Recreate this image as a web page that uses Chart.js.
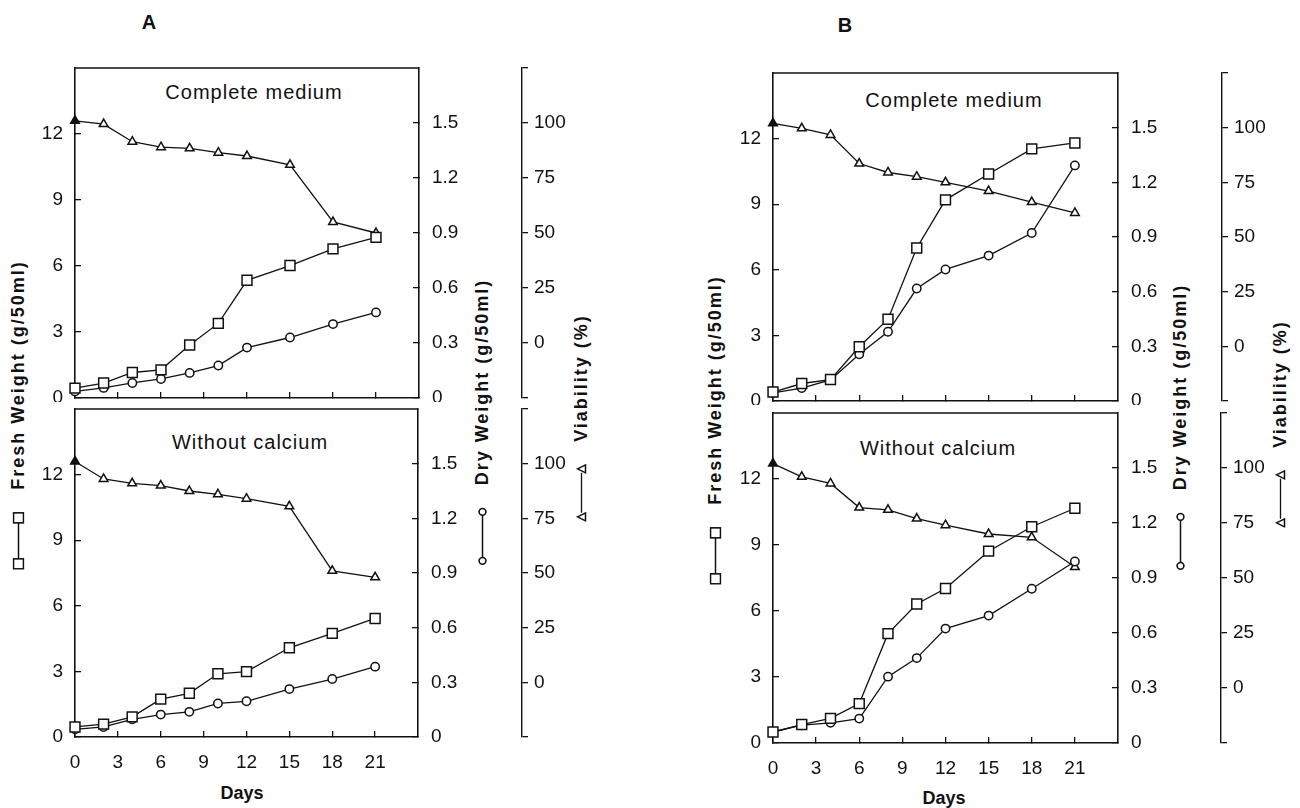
<!DOCTYPE html>
<html>
<head>
<meta charset="utf-8">
<script src="https://cdn.jsdelivr.net/npm/chart.js@4.4.1/dist/chart.umd.min.js"></script>
<style>
  body { margin: 0; background: #fff; }
  #page { position: relative; width: 1300px; height: 808px; overflow: hidden;
          font-family: 'Liberation Sans', Arial, sans-serif; color: #111; }
  canvas { position: absolute; }
  .txt { position: absolute; white-space: nowrap; transform: translate(-50%, -50%); }
  .sub { font-size: 20px; letter-spacing: 1px; }
  .big { font-size: 20px; font-weight: bold; }
  .rot { position: absolute; white-space: nowrap; display: flex; align-items: center;
         transform: translate(-50%, -50%) rotate(-90deg);
         font-size: 18px; font-weight: bold; letter-spacing: 2px; }
  .rot svg { margin-right: 22px; }
</style>
</head>
<body>
<div id="page">
  <div class="txt big" style="left:149px; top:22px">A</div>
  <div class="txt big" style="left:845px; top:25px">B</div>

  <div class="txt sub" style="left:254px; top:92px">Complete medium</div>
  <div class="txt sub" style="left:250px; top:442px">Without calcium</div>
  <div class="txt sub" style="left:954px; top:100px">Complete medium</div>
  <div class="txt sub" style="left:938px; top:448px">Without calcium</div>

  <div class="txt big" style="left:242px; top:793px; font-size:18px">Days</div>
  <div class="txt big" style="left:944px; top:798px; font-size:18px">Days</div>

  <div class="rot" style="left:18px; top:415px">
    <svg width="58" height="12"><line x1="11" y1="6" x2="47" y2="6" stroke="#111" stroke-width="1.5"/><rect x="1" y="1" width="10" height="10" fill="#fff" stroke="#111" stroke-width="1.6"/><rect x="47" y="1" width="10" height="10" fill="#fff" stroke="#111" stroke-width="1.6"/></svg>
    <span>Fresh Weight (g/50ml)</span>
  </div>
  <div class="rot" style="left:482px; top:422px">
    <svg width="58" height="12"><line x1="8" y1="6" x2="50" y2="6" stroke="#111" stroke-width="1.5"/><circle cx="4.5" cy="6" r="3.4" fill="#fff" stroke="#111" stroke-width="1.6"/><circle cx="53.5" cy="6" r="3.4" fill="#fff" stroke="#111" stroke-width="1.6"/></svg>
    <span>Dry Weight (g/50ml)</span>
  </div>
  <div class="rot" style="left:581px; top:418px">
    <svg width="58" height="12"><line x1="9" y1="6" x2="49" y2="6" stroke="#111" stroke-width="1.3"/><polygon points="5,2 9,10 1,10" fill="#fff" stroke="#111" stroke-width="1.5"/><polygon points="53,2 57,10 49,10" fill="#fff" stroke="#111" stroke-width="1.5"/></svg>
    <span>Viability (%)</span>
  </div>

  <div class="rot" style="left:715px; top:430px">
    <svg width="58" height="12"><line x1="11" y1="6" x2="47" y2="6" stroke="#111" stroke-width="1.5"/><rect x="1" y="1" width="10" height="10" fill="#fff" stroke="#111" stroke-width="1.6"/><rect x="47" y="1" width="10" height="10" fill="#fff" stroke="#111" stroke-width="1.6"/></svg>
    <span>Fresh Weight (g/50ml)</span>
  </div>
  <div class="rot" style="left:1180px; top:427px">
    <svg width="58" height="12"><line x1="8" y1="6" x2="50" y2="6" stroke="#111" stroke-width="1.5"/><circle cx="4.5" cy="6" r="3.4" fill="#fff" stroke="#111" stroke-width="1.6"/><circle cx="53.5" cy="6" r="3.4" fill="#fff" stroke="#111" stroke-width="1.6"/></svg>
    <span>Dry Weight (g/50ml)</span>
  </div>
  <div class="rot" style="left:1280px; top:424px">
    <svg width="58" height="12"><line x1="9" y1="6" x2="49" y2="6" stroke="#111" stroke-width="1.3"/><polygon points="5,2 9,10 1,10" fill="#fff" stroke="#111" stroke-width="1.5"/><polygon points="53,2 57,10 49,10" fill="#fff" stroke="#111" stroke-width="1.5"/></svg>
    <span>Viability (%)</span>
  </div>
</div>

<script>
// sampling days
const days = [0, 2, 4, 6, 8, 10, 12, 15, 18, 21];

// A, complete medium
const freshA1 = [0.45, 0.68, 1.16, 1.28, 2.41, 3.39, 5.35, 6.02, 6.78, 7.3];
const dryA1   = [0.036, 0.055, 0.082, 0.104, 0.137, 0.177, 0.275, 0.33, 0.403, 0.467];
const viabA1  = [101, 99.5, 91.5, 89, 88.5, 86.5, 85, 81, 55, 50];

// A, without calcium
const freshA2 = [0.46, 0.59, 0.92, 1.73, 2.0, 2.89, 2.99, 4.08, 4.74, 5.42];
const dryA2   = [0.042, 0.055, 0.097, 0.123, 0.138, 0.184, 0.196, 0.263, 0.318, 0.386];
const viabA2  = [101, 93, 91, 90, 87.5, 86, 84, 80.5, 51, 48];

// B, complete medium
const freshB1 = [0.41, 0.8, 0.98, 2.48, 3.74, 7.0, 9.2, 10.38, 11.53, 11.8];
const dryB1   = [0.044, 0.071, 0.116, 0.256, 0.38, 0.617, 0.722, 0.798, 0.922, 1.293];
const viabB1  = [102, 99.7, 96.7, 83.6, 79.5, 77.6, 75, 71, 66, 61];

// B, without calcium
const freshB2 = [0.5, 0.84, 1.12, 1.79, 4.97, 6.32, 7.02, 8.72, 9.83, 10.67];
const dryB2   = [0.06, 0.097, 0.11, 0.133, 0.362, 0.463, 0.624, 0.695, 0.841, 0.99];
const viabB2  = [102, 96, 93, 82, 81, 77, 74, 70, 68.5, 55];

// tick labels
const dayTicks = [0, 3, 6, 9, 12, 15, 18, 21];
const freshTicks = [0, 3, 6, 9, 12];
const dryTicks = [0, 0.3, 0.6, 0.9, 1.2, 1.5];
const viabTicks = [0, 25, 50, 75, 100];

Chart.defaults.font.family = "'Liberation Sans', Arial, sans-serif";
Chart.defaults.font.size = 19;
Chart.defaults.color = '#111';

const ink = '#111';

const frameTop = {
  id: 'frameTop',
  beforeDatasetsDraw(chart) {
    const a = chart.chartArea, c = chart.ctx;
    c.save();
    c.strokeStyle = ink;
    c.lineWidth = 1.6;
    c.beginPath();
    c.moveTo(a.left, a.top);
    c.lineTo(a.right, a.top);
    c.stroke();
    c.restore();
  }
};

function line(vals, axis, shape, radius, firstFilled) {
  return {
    data: days.map((d, i) => ({ x: d, y: vals[i] })),
    yAxisID: axis,
    borderColor: ink,
    borderWidth: 1.3,
    pointStyle: shape,
    pointRadius: radius,
    pointBorderWidth: 1.5,
    pointBorderColor: ink,
    pointBackgroundColor: days.map((d, i) => (firstFilled && i === 0) ? ink : '#fff'),
    tension: 0,
    clip: false
  };
}

function innerGrid(len) {
  return { drawOnChartArea: false, tickLength: len, color: ink, lineWidth: 1.3 };
}

// fix an axis' size and drop the label overhang padding so the plot box lands where we want
function fixY(w) {
  return s => { s.width = w; s.paddingTop = 0; s.paddingBottom = 0; };
}
function fixX(h) {
  return s => { s.height = h; s.paddingLeft = 0; s.paddingRight = 0; };
}

function makeChart(box, fresh, dry, viab, showDays) {
  const leftW = 60, viabW = 62, padTop = 4;
  const xH = showDays ? 42 : 4;
  const dryW = box.v - box.r;
  const canvas = document.createElement('canvas');
  canvas.width = (box.r - box.l) + leftW + dryW + viabW;
  canvas.height = (box.b - box.t) + padTop + xH;
  canvas.style.left = (box.l - leftW) + 'px';
  canvas.style.top = (box.t - padTop) + 'px';
  document.getElementById('page').appendChild(canvas);

  new Chart(canvas, {
    type: 'line',
    data: {
      datasets: [
        line(fresh, 'fresh', 'rect', 7, false),
        line(dry, 'dry', 'circle', 4.2, false),
        line(viab, 'viab', 'triangle', 5, true)
      ]
    },
    options: {
      responsive: false,
      animation: false,
      devicePixelRatio: 1,
      layout: { autoPadding: false, padding: { top: padTop, left: 0, right: 0, bottom: 0 } },
      plugins: { legend: { display: false }, tooltip: { enabled: false } },
      scales: {
        x: {
          type: 'linear', position: 'bottom', min: 0, max: 24,
          afterBuildTicks: s => { s.ticks = dayTicks.map(v => ({ value: v })); },
          afterFit: fixX(xH),
          ticks: { display: showDays, padding: 20, callback: v => String(v) },
          grid: innerGrid(-6),
          border: { color: ink, width: 1.6 }
        },
        fresh: {
          type: 'linear', position: 'left', min: 0, max: 15,
          afterBuildTicks: s => { s.ticks = freshTicks.map(v => ({ value: v })); },
          afterFit: fixY(leftW),
          ticks: { padding: 18, callback: v => String(v) },
          grid: innerGrid(-6),
          border: { color: ink, width: 1.6 }
        },
        dry: {
          type: 'linear', position: 'right', weight: 0, min: 0, max: 1.8,
          afterBuildTicks: s => { s.ticks = dryTicks.map(v => ({ value: v })); },
          afterFit: fixY(dryW),
          ticks: { padding: 19, callback: v => v === 0 ? '0' : v.toFixed(1) },
          grid: innerGrid(-6),
          border: { color: ink, width: 1.6 }
        },
        viab: {
          type: 'linear', position: 'right', weight: 1, min: -25, max: 125,
          afterBuildTicks: s => { s.ticks = [-25].concat(viabTicks, [125]).map(v => ({ value: v })); },
          afterFit: fixY(viabW),
          ticks: { padding: 6, callback: v => (v < 0 || v > 100) ? '' : String(v) },
          grid: { drawOnChartArea: false, tickLength: 6, color: ink, lineWidth: 1.3 },
          border: { color: ink, width: 1.4 }
        }
      }
    },
    plugins: [frameTop]
  });
}

makeChart({ l: 75, t: 68, r: 419, b: 398, v: 522 }, freshA1, dryA1, viabA1, false);
makeChart({ l: 75, t: 409, r: 418, b: 737, v: 522 }, freshA2, dryA2, viabA2, true);
makeChart({ l: 773, t: 73, r: 1118, b: 401, v: 1222 }, freshB1, dryB1, viabB1, false);
makeChart({ l: 773, t: 413, r: 1118, b: 743, v: 1221 }, freshB2, dryB2, viabB2, true);
</script>
</body>
</html>
